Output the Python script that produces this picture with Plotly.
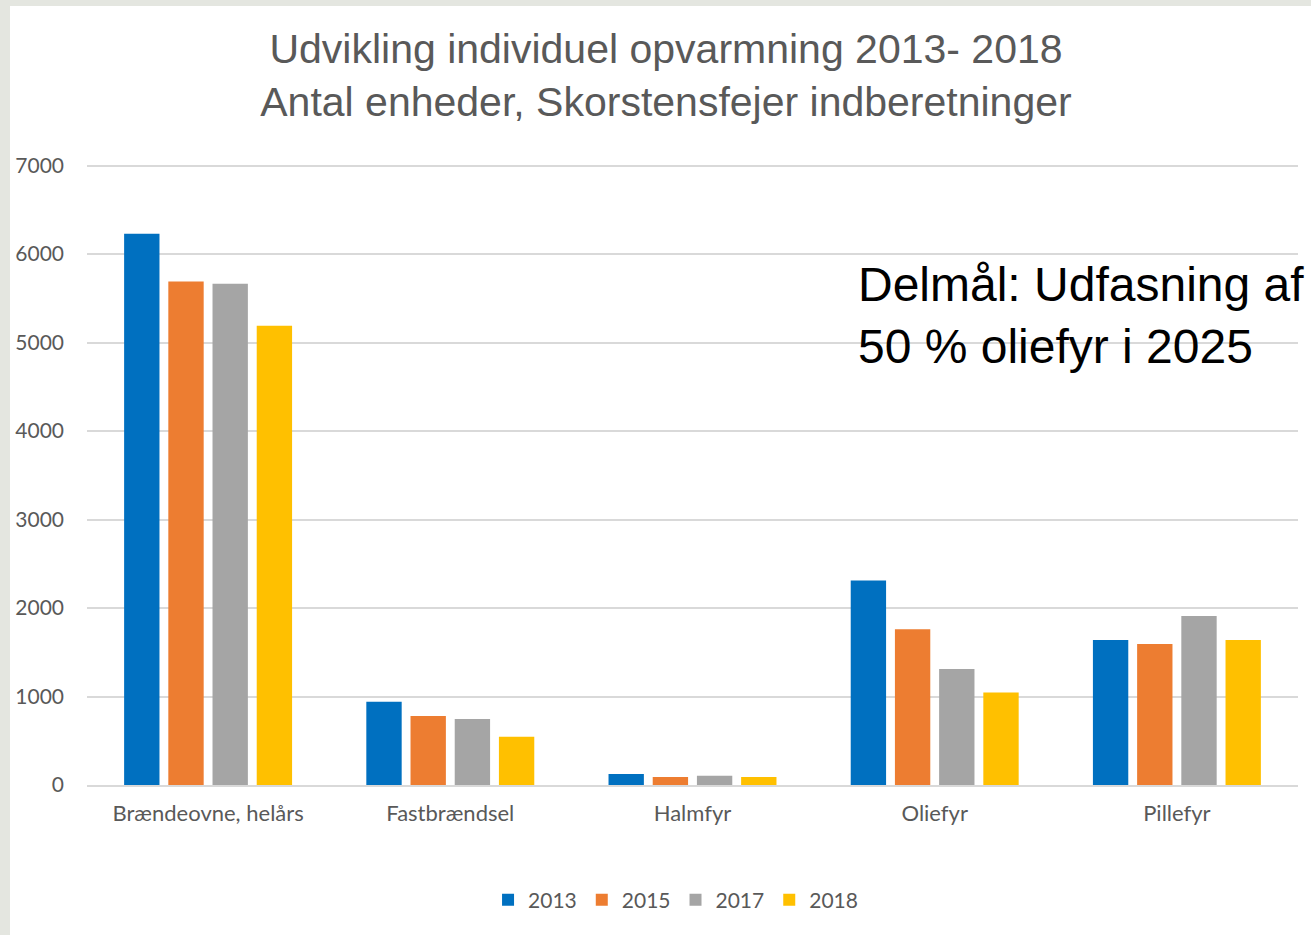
import plotly.graph_objects as go

categories = ["Brændeovne, helårs", "Fastbrændsel", "Halmfyr", "Oliefyr", "Pillefyr"]
years = ["2013", "2015", "2017", "2018"]
v2013 = [6230, 940, 125, 2310, 1640]
v2015 = [5690, 780, 90, 1760, 1595]
v2017 = [5665, 745, 105, 1310, 1910]
v2018 = [5190, 545, 90, 1045, 1640]
colors = ["#0070C0", "#ED7D31", "#A5A5A5", "#FFC000"]
series = [v2013, v2015, v2017, v2018]

W, H = 1311, 935
ymax = 7030
ml, mr, mb = 87, 13, 150
ph = round(619 * ymax / 7000)
mt = H - mb - ph
pw = W - ml - mr

def px_x(p):
    return (p - ml) / pw

def px_y(p):
    return (H - mb - p) / ph

fig = go.Figure()
for name, vals, c in zip(years, series, colors):
    fig.add_trace(go.Bar(x=categories, y=vals, name=name, marker=dict(color=c, line=dict(width=0))))

fig.update_layout(
    width=W, height=H,
    margin=dict(l=ml, r=mr, t=mt, b=mb, autoexpand=False),
    paper_bgcolor="#E4E6E0",
    plot_bgcolor="white",
    barmode="group",
    bargap=0.27,
    bargroupgap=0.2,
    font=dict(family="Lato, Liberation Sans, Arial", color="#595959"),
    title=dict(
        text="Udvikling individuel opvarmning 2013- 2018<br>Antal enheder, Skorstensfejer indberetninger",
        x=0.508, xanchor="center", y=1 - 63 / H, yanchor="middle",
        font=dict(family="Liberation Sans, Arial", size=41, color="#595959"),
    ),
    showlegend=True,
    legend=dict(
        orientation="h", x=0.486, xanchor="center", y=px_y(900), yanchor="middle",
        font=dict(size=21, color="#595959", family="Lato, Liberation Sans"),
        itemwidth=30, traceorder="normal", bgcolor="rgba(0,0,0,0)",
    ),
    shapes=[dict(
        type="rect", xref="paper", yref="paper",
        x0=px_x(10), x1=px_x(W + 10), y0=px_y(H + 10), y1=px_y(6),
        fillcolor="white", line=dict(width=0), layer="below",
    )],
    annotations=[dict(
        text="Delmål: Udfasning af<br>50 % oliefyr i 2025",
        xref="paper", yref="paper", x=px_x(856), y=px_y(315),
        xanchor="left", yanchor="middle", align="left", showarrow=False,
        font=dict(family="Liberation Sans, Arial", size=48, color="black"),
    )],
)
fig.update_yaxes(
    range=[0, ymax], tickvals=[0, 1000, 2000, 3000, 4000, 5000, 6000, 7000],
    showgrid=True, gridcolor="#D9D9D9", gridwidth=2, automargin=False,
    zeroline=False, showline=False, ticks="", ticklabelstandoff=22,
    tickfont=dict(size=21, color="#595959"),
)
fig.update_xaxes(
    showline=True, linecolor="#D9D9D9", linewidth=2, ticks="", automargin=False,
    tickfont=dict(size=22, color="#595959"), ticklabelstandoff=8,
)

fig.write_html("out.html", post_script="document.body.style.margin='0';",
               config={"displayModeBar": False})
